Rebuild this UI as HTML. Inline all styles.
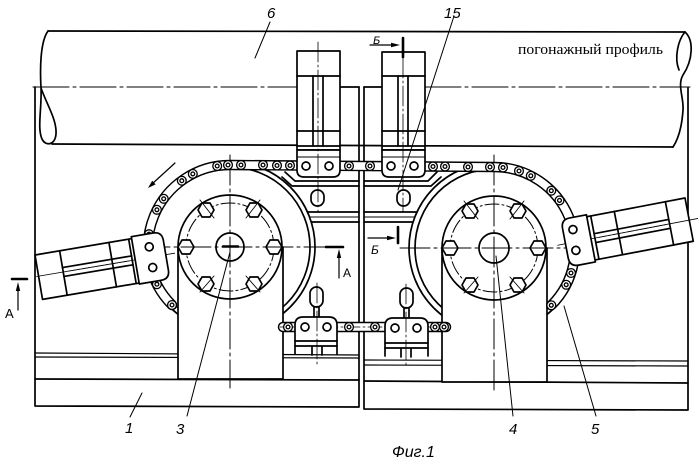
<!DOCTYPE html>
<html><head><meta charset="utf-8"><style>
html,body{margin:0;padding:0;background:#fff;}
svg{display:block;}
</style></head><body>
<svg width="698" height="461" viewBox="0 0 698 461" xmlns="http://www.w3.org/2000/svg">
<defs>
<g id="r"><circle r="4.4" fill="#fff"/><circle r="1.9" fill="#fff"/></g>
<polygon id="hx" points="8,0 4,7 -4,7 -8,0 -4,-7 4,-7" fill="#fff"/>
</defs>
<rect width="698" height="461" fill="#fff"/>
<g fill="none" stroke="#000" stroke-width="1.7" stroke-linejoin="round" stroke-linecap="round">

<!-- pipe -->
<path d="M48,31 L685,32"/>
<path d="M52,144 L673,147"/>
<path d="M48,31 C40,42 40,70 41,88 C42,108 37,128 42,139 C45,146 55,146 56,134 C57,120 47,105 41,88"/>
<path d="M685,32 C678,40 674,58 679,70"/>
<path d="M685,32 C694,40 693,60 683,75 C677,85 684,98 683,110 C682,125 679,138 673,147"/>
<path d="M33,87 L297,87 M425,87 L690,87" stroke-width="1.1" stroke-dasharray="36,4,3,4"/>
<path d="M340,87 L359,87 M364,87 L382,87"/>

<!-- frame -->
<path d="M35,87 L35,406 L359,407 L359,87"/>
<path d="M364,87 L364,409 L688,410 L688,88"/>
<path d="M35,353 L359,355 M35,357 L359,358" stroke-width="1.2"/>
<path d="M35,379 L359,380"/>
<path d="M364,360 L688,361 M364,365 L688,366" stroke-width="1.2"/>
<path d="M364,381 L688,383"/>

<!-- crossbars -->
<path d="M283,212 L359,212 M283,222 L359,222 M364,212 L440,212 M364,222 L440,222"/>
<path d="M283,217 L359,217 M364,217 L440,217" stroke-width="0.9"/>

<!-- guides under top clamps -->
<path d="M285,172 L295,181 L359,181 M282,177 L292,186 L359,186"/>
<path d="M364,181 L428,181 L437,172 M364,186 L431,186 L441,177"/>
<rect x="311" y="190" width="13" height="16" rx="6.5" fill="#fff"/>
<rect x="397" y="190" width="13" height="16" rx="6.5" fill="#fff"/>

<!-- sprocket outer circles -->
<circle cx="230" cy="247" r="85" fill="#fff"/>
<circle cx="230" cy="247" r="80"/>
<circle cx="494" cy="248" r="85" fill="#fff"/>
<circle cx="494" cy="248" r="79"/>

<!-- pedestals -->
<rect x="178" y="247" width="105" height="132" fill="#fff"/>
<rect x="442" y="248" width="105" height="134" fill="#fff"/>

<!-- flanges -->
<circle cx="230" cy="247" r="52" fill="#fff"/>
<circle cx="230" cy="247" r="44" stroke-width="1" stroke-dasharray="14,3,2,3"/>
<circle cx="230" cy="247" r="14" fill="#fff"/>
<path d="M223,246.5 L238,246.5" stroke-width="2.6"/>
<use href="#hx" x="274" y="247"/><use href="#hx" x="186" y="247"/>
<use href="#hx" x="254" y="210"/><use href="#hx" x="206" y="210"/>
<use href="#hx" x="254" y="284"/><use href="#hx" x="206" y="284"/>

<circle cx="494" cy="248" r="52" fill="#fff"/>
<circle cx="494" cy="248" r="44" stroke-width="1" stroke-dasharray="14,3,2,3"/>
<circle cx="494" cy="248" r="15" fill="#fff"/>
<use href="#hx" x="538" y="248"/><use href="#hx" x="450" y="248"/>
<use href="#hx" x="518" y="211"/><use href="#hx" x="470" y="211"/>
<use href="#hx" x="518" y="285"/><use href="#hx" x="470" y="285"/>
<path d="M200,200 L214,218 M260,200 L246,218 M200,292 L214,276 M260,292 L246,276" stroke-width="0.9"/>
<path d="M464,201 L478,219 M524,201 L510,219 M464,293 L478,277 M524,293 L510,277" stroke-width="0.9"/>

<!-- center lines -->
<path d="M230,155 L230,388 M494,155 L494,390" stroke-width="1" stroke-dasharray="30,4,3,4"/>
<path d="M140,247 L326,247 M400,248 L582,248" stroke-width="1" stroke-dasharray="30,4,3,4"/>

<!-- top chain band -->
<path d="M172,305 A82,82 0 0 1 230,165 L494,167 A81,81 0 0 1 551.3,305.3" stroke-width="10.5"/>
<path d="M172,305 A82,82 0 0 1 230,165 L494,167 A81,81 0 0 1 551.3,305.3" stroke="#fff" stroke-width="7.6"/>
<!-- bottom chain band -->
<path d="M283,327 L446,327" stroke-width="10.5"/>
<path d="M283,327 L446,327" stroke="#fff" stroke-width="7.6"/>
<path d="M280,327 L449,327" stroke-width="0.8" stroke-dasharray="14,3,2,3"/>

<g stroke-width="1.3">
<use href="#r" x="217.2" y="166"/><use href="#r" x="192.8" y="173.9"/>
<use href="#r" x="181.8" y="180.7"/><use href="#r" x="163.7" y="198.8"/>
<use href="#r" x="156.9" y="209.8"/><use href="#r" x="149" y="234.2"/>
<use href="#r" x="148" y="247"/><use href="#r" x="152" y="272.3"/>
<use href="#r" x="156.9" y="284.2"/><use href="#r" x="172" y="305"/>
<use href="#r" x="228" y="165"/><use href="#r" x="241" y="165"/>
<use href="#r" x="263" y="165"/><use href="#r" x="277" y="165.5"/><use href="#r" x="290" y="165.5"/>
<use href="#r" x="349" y="166"/><use href="#r" x="370" y="166"/>
<use href="#r" x="433" y="166.5"/><use href="#r" x="445" y="166.5"/>
<use href="#r" x="468" y="167"/><use href="#r" x="490" y="167"/>
<use href="#r" x="503" y="167.5"/><use href="#r" x="519" y="171"/>
<use href="#r" x="530.8" y="175.8"/><use href="#r" x="551.3" y="190.7"/>
<use href="#r" x="559.5" y="200.4"/><use href="#r" x="571" y="223"/>
<use href="#r" x="574" y="235.3"/><use href="#r" x="575" y="248"/>
<use href="#r" x="571" y="273"/><use href="#r" x="566.2" y="284.8"/>
<use href="#r" x="551.3" y="305.3"/>
<use href="#r" x="288" y="327"/><use href="#r" x="349" y="327"/><use href="#r" x="375" y="327"/>
<use href="#r" x="435" y="327"/><use href="#r" x="444" y="327"/>
</g>

<!-- left cylinder -->
<g transform="translate(35,255) rotate(-9.6)">
<rect x="0" y="0" width="100" height="45" fill="#fff"/>
<path d="M25,0 L25,45 M75,0 L75,45 M95,0 L95,45"/>
<path d="M25,17 L95,17 M25,26 L95,26"/>
<path d="M-2,21.5 L138,21.5" stroke-width="0.8"/>
<path d="M30,21.5 L92,21.5" stroke-width="0.7" stroke-dasharray="8,2,2,2"/>
<path d="M98,-2 L120,-2 Q129,-2 129,7 L129,37 Q129,46 120,46 L98,46 Z" fill="#fff"/>
<circle cx="114" cy="11" r="4"/><circle cx="114" cy="32" r="4"/>
</g>

<!-- right cylinder -->
<g transform="translate(575,219) rotate(-10.8)">
<rect x="0" y="0" width="112" height="44" fill="#fff"/>
<path d="M16,0 L16,44 M40,0 L40,44 M92,0 L92,44"/>
<path d="M16,18 L92,18 M16,27 L92,27"/>
<path d="M-22,22.5 L124,22.5" stroke-width="0.8"/>
<path d="M20,22.5 L88,22.5" stroke-width="0.7" stroke-dasharray="8,2,2,2"/>
<path d="M12,-2 L-5,-2 Q-14,-2 -14,7 L-14,37 Q-14,46 -5,46 L12,46 Z" fill="#fff"/>
<circle cx="-4" cy="10" r="4"/><circle cx="-5" cy="31" r="4"/>
</g>

<!-- top clamps -->
<g>
<rect x="297" y="51" width="43" height="99" fill="#fff"/>
<path d="M297,76 L340,76 M297,131 L340,131 M297,146 L340,146"/>
<path d="M313,76 L313,146 M323,76 L323,146"/>
<path d="M297,150 L297,170 Q297,177 304,177 L333,177 Q340,177 340,170 L340,150 Z" fill="#fff"/>
<path d="M297,157 L340,157" stroke-width="1"/>
<circle cx="306" cy="166" r="4" fill="#fff"/><circle cx="329" cy="166" r="4" fill="#fff"/>
<path d="M318,42 L318,212" stroke-width="0.8" stroke-dasharray="20,3,2,3"/>

<rect x="382" y="52" width="43" height="98" fill="#fff"/>
<path d="M382,76 L425,76 M382,131 L425,131 M382,146 L425,146"/>
<path d="M398,76 L398,146 M408,76 L408,146"/>
<path d="M382,150 L382,170 Q382,177 389,177 L418,177 Q425,177 425,170 L425,150 Z" fill="#fff"/>
<path d="M382,157 L425,157" stroke-width="1"/>
<circle cx="391" cy="166" r="4" fill="#fff"/><circle cx="414" cy="166" r="4" fill="#fff"/>
<path d="M403,58 L403,212" stroke-width="0.8" stroke-dasharray="20,3,2,3"/>
</g>

<!-- lower clamps -->
<g>
<rect x="310" y="287" width="13" height="20" rx="6.5" fill="#fff"/>
<path d="M314,307 L314,317 M319,307 L319,317"/>
<path d="M295,354 L295,325 Q295,317 303,317 L329,317 Q337,317 337,325 L337,354" fill="#fff"/>
<path d="M295,341 L337,341 M295,346 L337,346 M312,346 L312,355 M322,346 L322,355"/>
<circle cx="305" cy="327" r="4" fill="#fff"/><circle cx="327" cy="327" r="4" fill="#fff"/>
<path d="M317,283 L317,366" stroke-width="0.8" stroke-dasharray="20,3,2,3"/>

<rect x="400" y="288" width="13" height="20" rx="6.5" fill="#fff"/>
<path d="M404,308 L404,318 M409,308 L409,318"/>
<path d="M385,356 L385,326 Q385,318 393,318 L420,318 Q428,318 428,326 L428,356" fill="#fff"/>
<path d="M385,343 L428,343 M385,348 L428,348 M401,348 L401,357 M411,348 L411,357"/>
<circle cx="395" cy="328" r="4" fill="#fff"/><circle cx="417" cy="328" r="4" fill="#fff"/>
<path d="M406,284 L406,368" stroke-width="0.8" stroke-dasharray="20,3,2,3"/>
</g>

<!-- section marks -->
<path d="M12,279 L27,279" stroke-width="2.6"/>
<path d="M18,310 L18,286" stroke-width="1.2"/>
<path d="M326,247 L343,247" stroke-width="2.6"/>
<path d="M339,278 L339,253" stroke-width="1.2"/>
<path d="M370,45 L396,45" stroke-width="1.2"/>
<path d="M403,38 L403,57" stroke-width="2.6"/>
<path d="M368,238 L392,238" stroke-width="1.2"/>
<path d="M398,227 L398,243" stroke-width="2.6"/>
<path d="M175,163 L152,184" stroke-width="1.2"/>

<!-- leaders -->
<path d="M270,22 L255,58 M454,16 L398,190 M142,393 L130,417 M230,252 L187,416 M496,256 L513,416 M564,306 L596,416" stroke-width="1"/>
</g>

<g fill="#000" stroke="none">
<polygon points="18,282 15.8,291 20.2,291"/>
<polygon points="339,249 336.8,258 341.2,258"/>
<polygon points="400,45 391,42.8 391,47.2"/>
<polygon points="396,238 387,235.8 387,240.2"/>
<polygon points="148,188 155.6,184.4 152.2,180.8"/>
</g>

<g fill="#000" font-family="'Liberation Sans', 'DejaVu Sans', sans-serif" font-style="italic">
<text x="267" y="18" font-size="15">6</text>
<text x="444" y="18" font-size="15">15</text>
<text x="125" y="433" font-size="15">1</text>
<text x="176" y="434" font-size="15">3</text>
<text x="509" y="434" font-size="15">4</text>
<text x="591" y="434" font-size="15">5</text>
<text x="392" y="457" font-size="16">Фиг.1</text>
<text x="373" y="44" font-size="11">Б</text>
<text x="371" y="254" font-size="12">Б</text>
</g>
<g fill="#000" font-family="'Liberation Sans', 'DejaVu Sans', sans-serif">
<text x="5" y="318" font-size="13">А</text>
<text x="343" y="277" font-size="12">А</text>
</g>
<text x="518" y="54" font-size="15" fill="#000" font-family="'Liberation Serif', 'DejaVu Serif', serif" textLength="145" lengthAdjust="spacingAndGlyphs">погонажный профиль</text>
</svg>
</body></html>
